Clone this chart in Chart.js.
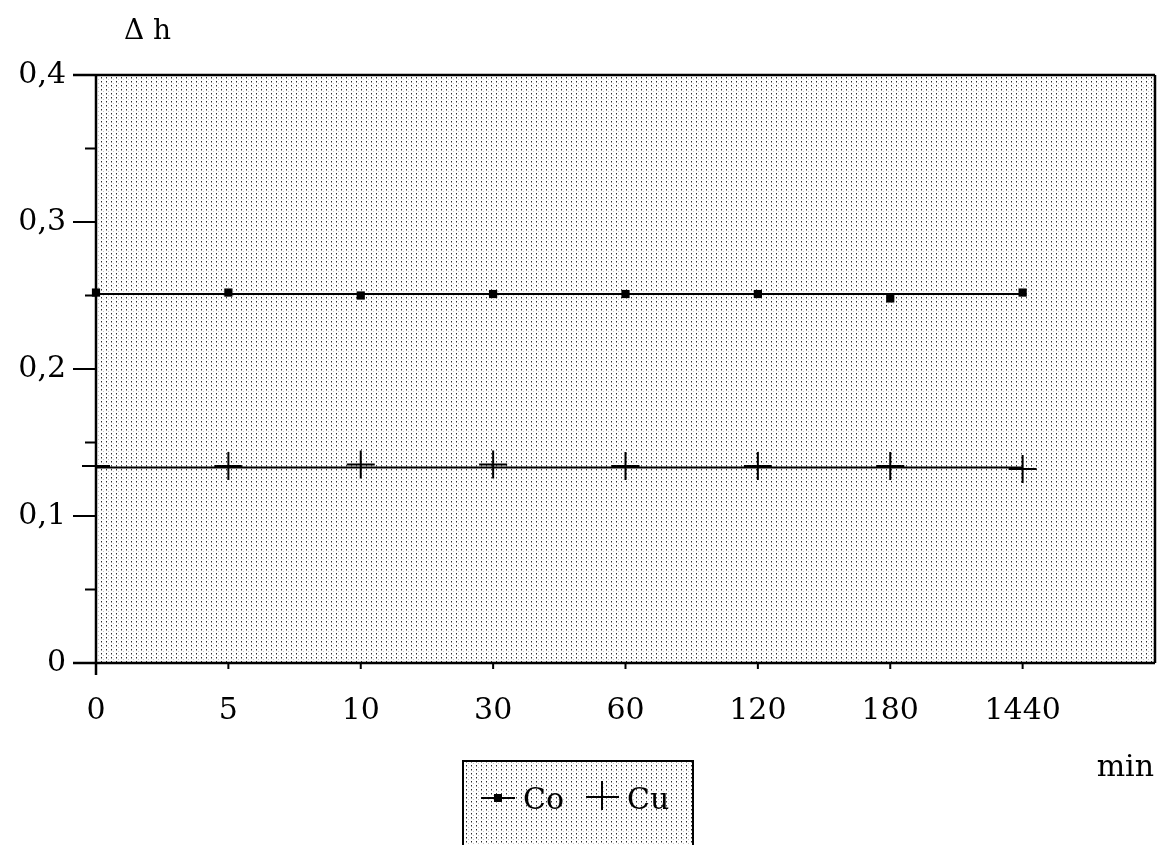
<!DOCTYPE html>
<html>
<head>
<meta charset="utf-8">
<script src="https://cdn.jsdelivr.net/npm/chart.js@4.4.1/dist/chart.umd.min.js"></script>
<style>
  html, body { margin: 0; padding: 0; background: #fff; }
  canvas { display: block; }
</style>
</head>
<body>
<canvas id="dh-chart" width="1159" height="845"></canvas>
<script>
// sampling times (min), plotted at evenly spaced positions
const timeLabels = ["0", "5", "10", "30", "60", "120", "180", "1440"];
const coValues = [0.252, 0.252, 0.250, 0.251, 0.251, 0.251, 0.248, 0.252];
const cuValues = [0.134, 0.134, 0.135, 0.135, 0.134, 0.134, 0.134, 0.132];
// straight reference lines through each series
const coLine = [0.251, 0.251];
const cuLine = [0.133, 0.133];
const yMajor = [0, 0.1, 0.2, 0.3, 0.4];
const yMinor = [0.05, 0.15, 0.25, 0.35];

const FONT = "DejaVu Serif";
const canvas = document.getElementById("dh-chart");

// stippled screen used for the plot area and the legend box
const makeStipple = (ctx) => {
  const tile = document.createElement("canvas");
  tile.width = 5;
  tile.height = 4;
  const t = tile.getContext("2d");
  t.fillStyle = "#fff";
  t.fillRect(0, 0, 5, 4);
  t.fillStyle = "#2a2a2a";
  t.fillRect(1, 1, 1, 1);
  t.fillStyle = "#9a9a9a";
  t.fillRect(1, 2, 1, 1);
  t.fillStyle = "#c8c8c8";
  t.fillRect(3, 3, 1, 1);
  return ctx.createPattern(tile, "repeat");
};

const idx = (arr) => arr.map((v, i) => ({ x: i, y: v }));
const ends = (arr) => [{ x: 0, y: arr[0] }, { x: timeLabels.length - 1, y: arr[1] }];

const fmt = (v) => (v === 0 ? "0" : v.toFixed(1).replace(".", ","));

const framePlugin = {
  id: "frame",
  beforeDraw(chart) {
    const { ctx, chartArea: a } = chart;
    ctx.save();
    ctx.fillStyle = "#fff";
    ctx.fillRect(0, 0, chart.width, chart.height);
    ctx.fillStyle = makeStipple(ctx);
    ctx.fillRect(a.left, a.top, a.right - a.left, a.bottom - a.top);
    ctx.restore();
  },
  afterDraw(chart) {
    const { ctx, chartArea: a, scales } = chart;
    const xs = scales.x;
    const ys = scales.y;
    ctx.save();
    ctx.strokeStyle = "#000";
    ctx.lineCap = "butt";

    // axis and frame
    ctx.lineWidth = 2.5;
    ctx.beginPath();
    ctx.moveTo(a.left, a.top);
    ctx.lineTo(a.left, a.bottom + 12);
    ctx.moveTo(a.left - 23, a.bottom);
    ctx.lineTo(a.right, a.bottom);
    ctx.moveTo(a.left - 23, a.top);
    ctx.lineTo(a.right, a.top);
    ctx.moveTo(a.right, a.top);
    ctx.lineTo(a.right, a.bottom);
    ctx.stroke();

    // y ticks: long at tenths, short between
    ctx.lineWidth = 2;
    ctx.beginPath();
    yMajor.forEach((v) => {
      const y = ys.getPixelForValue(v);
      ctx.moveTo(a.left - 23, y);
      ctx.lineTo(a.left, y);
    });
    yMinor.forEach((v) => {
      const y = ys.getPixelForValue(v);
      ctx.moveTo(a.left - 11, y);
      ctx.lineTo(a.left, y);
    });
    // x ticks
    timeLabels.forEach((_, i) => {
      const x = xs.getPixelForValue(i);
      ctx.moveTo(x, a.bottom);
      ctx.lineTo(x, a.bottom + 6);
    });
    ctx.stroke();

    // axis titles
    ctx.fillStyle = "#000";
    ctx.font = `28px ${FONT}`;
    ctx.textBaseline = "middle";
    ctx.textAlign = "left";
    ctx.fillText("\u0394 h", 124, 32);
    ctx.font = `30px ${FONT}`;
    ctx.textAlign = "right";
    ctx.fillText("min", 1154, 768);

    // legend box
    const bx = 463, by = 761, bw = 230, bh = 100;
    ctx.fillStyle = makeStipple(ctx);
    ctx.fillRect(bx, by, bw, bh);
    ctx.lineWidth = 2;
    ctx.strokeRect(bx, by, bw, bh);

    const ly = 798;
    const sets = chart.data.datasets;
    // Co: line with square marker
    ctx.lineWidth = 2;
    ctx.beginPath();
    ctx.moveTo(481, ly);
    ctx.lineTo(515, ly);
    ctx.stroke();
    ctx.fillStyle = "#000";
    ctx.fillRect(494, ly - 4, 8, 8);
    ctx.font = `30px ${FONT}`;
    ctx.textAlign = "left";
    ctx.textBaseline = "middle";
    ctx.fillText(sets[0].label, 523, ly + 3);
    // Cu: plus marker
    ctx.beginPath();
    ctx.moveTo(586, ly - 1);
    ctx.lineTo(619, ly - 1);
    ctx.moveTo(602, ly - 17);
    ctx.lineTo(602, ly + 12);
    ctx.stroke();
    ctx.fillText(sets[1].label, 627, ly + 3);
    ctx.restore();
  },
};

new Chart(canvas, {
  type: "scatter",
  data: {
    datasets: [
      {
        label: "Co",
        data: idx(coValues),
        showLine: false,
        pointStyle: "rect",
        pointRadius: 5.8,
        backgroundColor: "#000",
        borderColor: "#000",
        borderWidth: 0,
        clip: false,
        order: 0,
      },
      {
        label: "Cu",
        data: idx(cuValues),
        showLine: false,
        pointStyle: "cross",
        pointRadius: 14,
        borderColor: "#000",
        borderWidth: 2,
        clip: false,
        order: 0,
      },
      {
        label: "Co line",
        data: ends(coLine),
        showLine: true,
        pointRadius: 0,
        borderColor: "#000",
        borderWidth: 2,
        order: 1,
      },
      {
        label: "Cu line",
        data: ends(cuLine),
        showLine: true,
        pointRadius: 0,
        borderColor: "#000",
        borderWidth: 2,
        order: 1,
      },
    ],
  },
  options: {
    responsive: false,
    animation: false,
    events: [],
    layout: { autoPadding: false, padding: { top: 75, right: 4, left: 0, bottom: 0 } },
    plugins: {
      legend: { display: false },
      tooltip: { enabled: false },
    },
    scales: {
      x: {
        type: "linear",
        min: 0,
        max: timeLabels.length,
        afterFit: (s) => {
          s.height = 182;
          s.paddingLeft = 0;
          s.paddingRight = 0;
        },
        afterBuildTicks: (s) => {
          s.ticks = timeLabels.map((_, i) => ({ value: i }));
        },
        grid: { display: false, drawTicks: false },
        border: { display: false },
        ticks: {
          callback: (v) => timeLabels[v] ?? "",
          autoSkip: false,
          maxRotation: 0,
          padding: 30,
          color: "#000",
          font: { family: FONT, size: 30 },
        },
      },
      y: {
        min: 0,
        max: 0.4,
        afterFit: (s) => {
          s.width = 96;
          s.paddingTop = 0;
          s.paddingBottom = 0;
        },
        afterBuildTicks: (s) => {
          s.ticks = yMajor.map((v) => ({ value: v }));
        },
        grid: { display: false, drawTicks: false },
        border: { display: false },
        ticks: {
          callback: (v) => fmt(v),
          padding: 30,
          color: "#000",
          font: { family: FONT, size: 30 },
        },
      },
    },
  },
  plugins: [framePlugin],
});
</script>
</body>
</html>
